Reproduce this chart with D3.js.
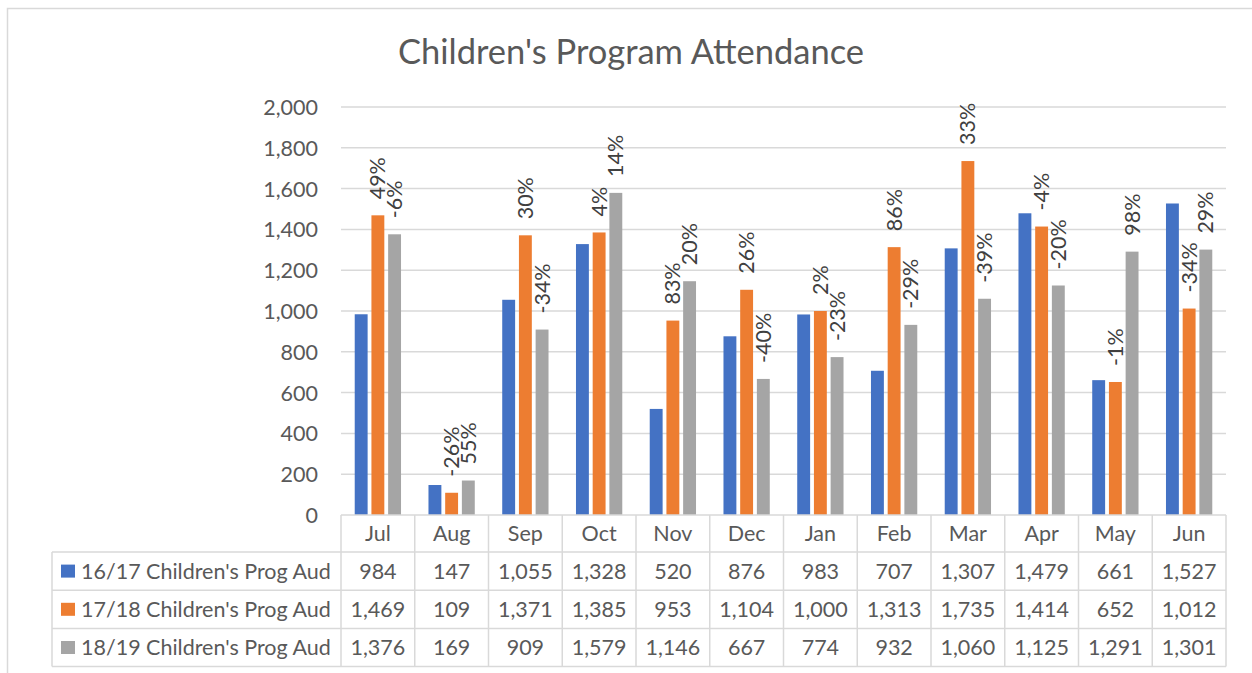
<!DOCTYPE html>
<html>
<head>
<meta charset="utf-8">
<script src="https://cdn.jsdelivr.net/npm/d3@7"></script>
<style>
  html, body { margin: 0; padding: 0; background: #fff; }
  svg { display: block; font-family: Lato, "Open Sans", sans-serif; }
</style>
</head>
<body>
<svg id="chart" width="1252" height="673"></svg>
<script>
// ---------- data ----------
const months = ["Jul","Aug","Sep","Oct","Nov","Dec","Jan","Feb","Mar","Apr","May","Jun"];
const seriesNames = ["16/17 Children's Prog Aud","17/18 Children's Prog Aud","18/19 Children's Prog Aud"];
const aud1617 = [984,147,1055,1328,520,876,983,707,1307,1479,661,1527];
const aud1718 = [1469,109,1371,1385,953,1104,1000,1313,1735,1414,652,1012];
const aud1819 = [1376,169,909,1579,1146,667,774,932,1060,1125,1291,1301];
const pct1718 = [49,-26,30,4,83,26,2,86,33,-4,-1,-34];
const pct1819 = [-6,55,-34,14,20,-40,-23,-29,-39,-20,98,29];
const yTicks = [0,200,400,600,800,1000,1200,1400,1600,1800,2000];
const colors = ["#4472C4","#ED7D31","#A5A5A5"];
const titleText = "Children's Program Attendance";

const seriesValues = [aud1617, aud1718, aud1819];
const seriesPct = [null, pct1718, pct1819];

// ---------- layout ----------
const svg = d3.select("#chart");
const textColor = "#595959";
const gridColor = "#D9D9D9";
const plotLeft = 341, plotRight = 1226, plotTop = 107, plotBottom = 515;
const tableLeft = 52;
const headerBottom = 552;
const rowH = 38.2;
const fs = 21.5;

// outer chart border
svg.append("path")
  .attr("d", `M7.5,673 V8.5 H1252`)
  .attr("fill", "none").attr("stroke", gridColor).attr("stroke-width", 1.5);

// title
svg.append("text")
  .attr("x", 631).attr("y", 64)
  .attr("text-anchor", "middle")
  .attr("font-size", 34.5)
  .attr("fill", textColor)
  .text(titleText);

const x0 = d3.scaleBand().domain(months).range([plotLeft, plotRight]).paddingInner(0).paddingOuter(0);
const x1 = d3.scaleBand().domain([0,1,2]).range([0, x0.bandwidth()]).paddingInner(0.228).paddingOuter(0.822);
const y = d3.scaleLinear().domain([0, 2000]).range([plotBottom, plotTop]);

// gridlines
svg.append("g").selectAll("line").data(yTicks.filter(d => d > 0)).join("line")
  .attr("x1", plotLeft).attr("x2", plotRight)
  .attr("y1", d => y(d)).attr("y2", d => y(d))
  .attr("stroke", gridColor).attr("stroke-width", 1.5);

// y axis labels
const yAxis = d3.axisLeft(y).tickValues(yTicks).tickFormat(d3.format(",")).tickSize(0).tickPadding(0);
const gy = svg.append("g").attr("transform", `translate(318,0)`).call(yAxis);
gy.select(".domain").remove();
gy.selectAll("text").attr("font-size", fs).attr("fill", textColor)
  .attr("font-family", "Lato, 'Open Sans', sans-serif").attr("dy", "0.35em");

// bars
const groups = svg.append("g").selectAll("g").data(months).join("g")
  .attr("transform", d => `translate(${x0(d)},0)`);

groups.selectAll("rect").data((m, i) => seriesValues.map((s, k) => ({k, v: s[i]}))).join("rect")
  .attr("x", d => x1(d.k))
  .attr("width", x1.bandwidth())
  .attr("y", d => y(d.v))
  .attr("height", d => y(0) - y(d.v))
  .attr("fill", d => colors[d.k]);

// percent labels (rotated)
groups.selectAll("text.pct").data((m, i) => [1,2].map(k => ({k, v: seriesValues[k][i], p: seriesPct[k][i]}))).join("text")
  .attr("class", "pct")
  .attr("transform", d => `translate(${x1(d.k) + x1.bandwidth()/2 + 7.5},${y(d.v) - 16}) rotate(-90)`)
  .attr("text-anchor", "start")
  .attr("font-size", fs)
  .attr("fill", "#404040")
  .text(d => d.p + "%");

// ---------- data table ----------
const tbl = svg.append("g");
const bc = gridColor;
tbl.append("line").attr("x1", plotLeft).attr("x2", plotRight).attr("y1", plotBottom).attr("y2", plotBottom).attr("stroke", bc).attr("stroke-width", 1.5);
const rowYs = [headerBottom, headerBottom + rowH, headerBottom + 2*rowH, headerBottom + 3*rowH];
tbl.selectAll("line.row").data(rowYs).join("line").attr("class","row")
  .attr("x1", tableLeft).attr("x2", plotRight).attr("y1", d => d).attr("y2", d => d)
  .attr("stroke", bc).attr("stroke-width", 1.5);
const vx = months.map(m => x0(m)).concat([plotRight]);
tbl.selectAll("line.col").data(vx).join("line").attr("class","col")
  .attr("x1", d => d).attr("x2", d => d).attr("y1", plotBottom).attr("y2", rowYs[3])
  .attr("stroke", bc).attr("stroke-width", 1.5);
tbl.append("line").attr("x1", tableLeft).attr("x2", tableLeft).attr("y1", headerBottom).attr("y2", rowYs[3])
  .attr("stroke", bc).attr("stroke-width", 1.5);

// category labels
tbl.selectAll("text.cat").data(months).join("text").attr("class","cat")
  .attr("x", d => x0(d) + x0.bandwidth()/2)
  .attr("y", (plotBottom + headerBottom)/2)
  .attr("dy", "0.36em")
  .attr("text-anchor", "middle")
  .attr("font-size", fs).attr("fill", textColor)
  .text(d => d);

// series rows
seriesNames.forEach((name, k) => {
  const cy = headerBottom + rowH * k + rowH / 2;
  tbl.append("rect").attr("x", 61).attr("y", cy - 6.5).attr("width", 14).attr("height", 13).attr("fill", colors[k]);
  tbl.append("text").attr("x", 81).attr("y", cy).attr("dy", "0.36em")
    .attr("font-size", fs).attr("fill", textColor).text(name);
  tbl.selectAll(null).data(seriesValues[k]).join("text")
    .attr("x", (d, i) => x0(months[i]) + x0.bandwidth()/2)
    .attr("y", cy).attr("dy", "0.36em")
    .attr("text-anchor", "middle")
    .attr("font-size", fs).attr("fill", textColor)
    .text(d => d3.format(",")(d));
});
</script>
</body>
</html>
